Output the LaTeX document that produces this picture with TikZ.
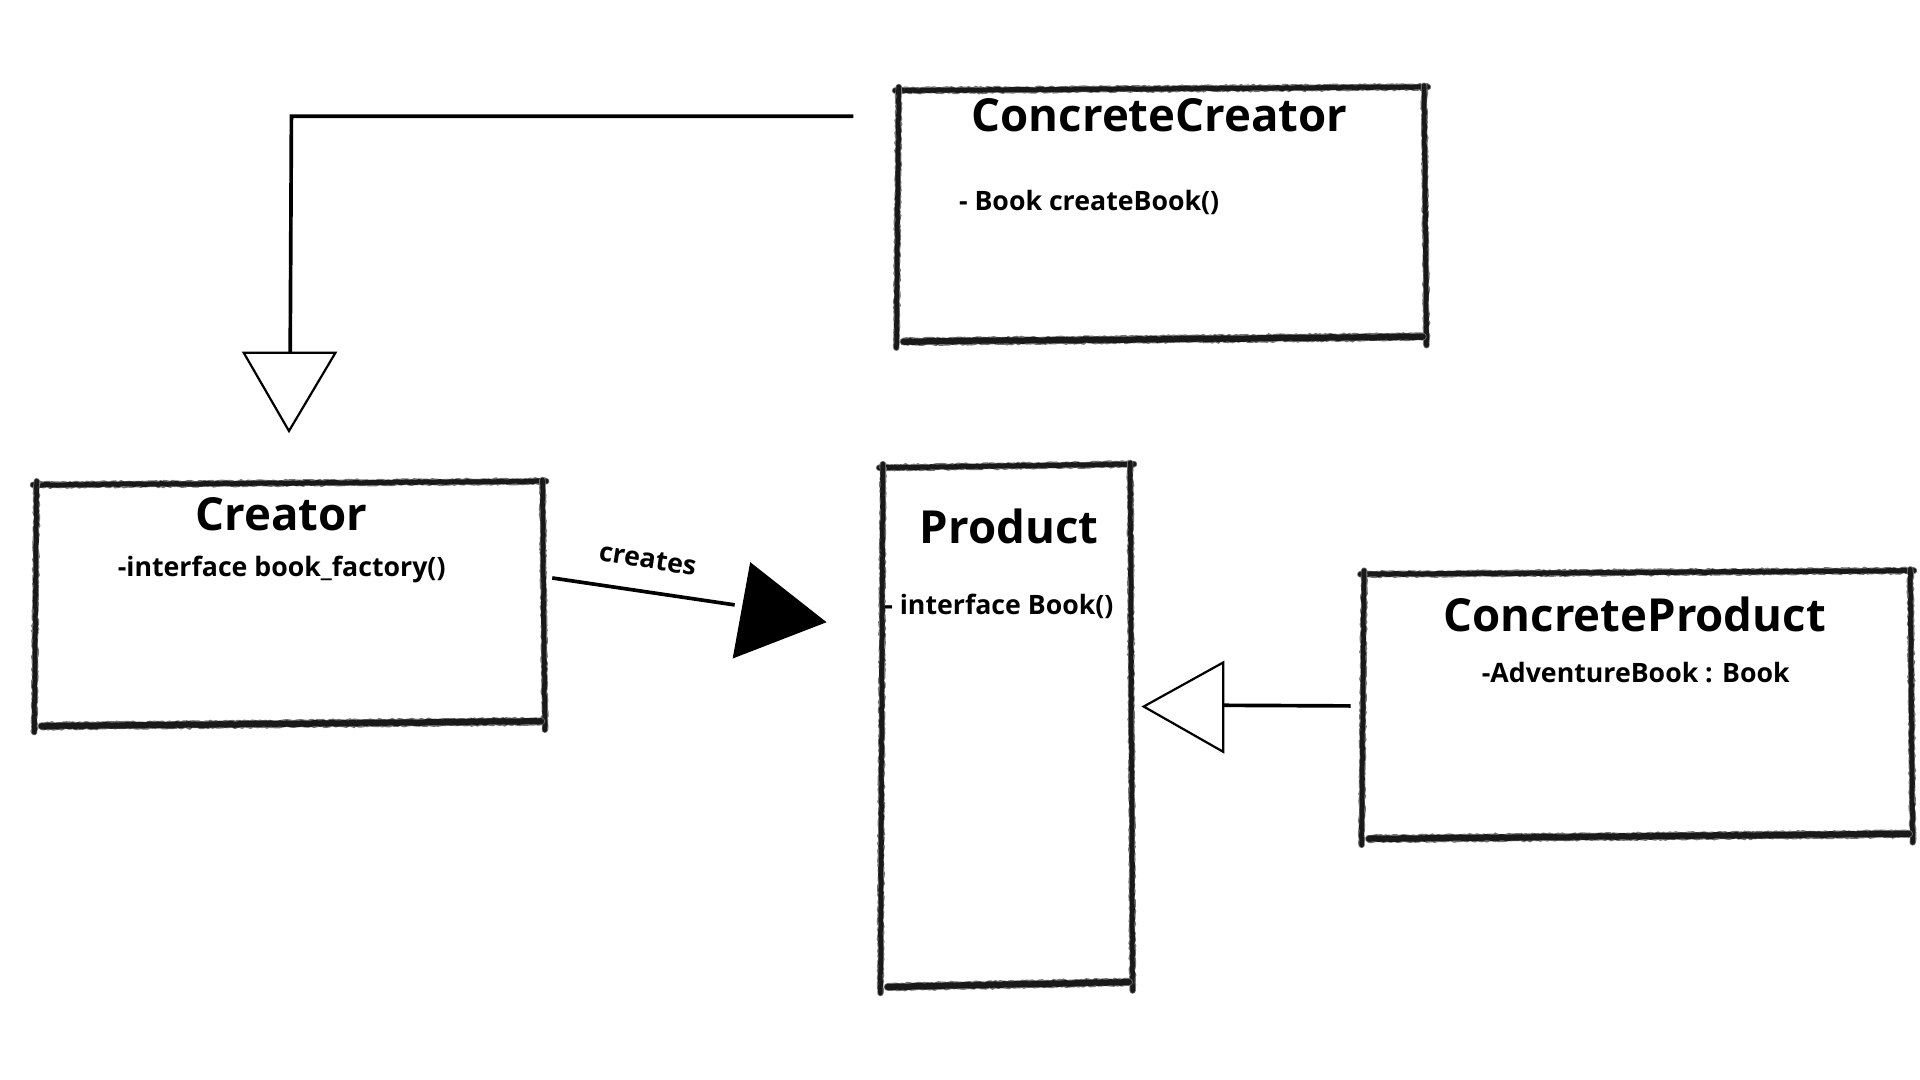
\documentclass[tikz,border=0pt]{standalone}
\usepackage{fontspec}
\setmainfont{Open Sans}
\usetikzlibrary{decorations.pathmorphing,calc}
\begin{document}
\begin{tikzpicture}[x=1pt,y=-1pt,
  skout/.style={line width=#1, draw=black!55, line cap=round,
    decorate, decoration={random steps, segment length=2pt, amplitude=0.6pt}},
  skin/.style={line width=#1, draw=black!90, line cap=round,
    decorate, decoration={random steps, segment length=2.5pt, amplitude=0.4pt}},
  boxn/.style={draw=none, rectangle, inner sep=0pt, outer sep=0pt, anchor=north west},
  ttl/.style={font=\fontsize{37.2}{40}\selectfont\bfseries, anchor=base, inner sep=0pt},
  txt/.style={font=\fontsize{21.8}{24}\selectfont\bfseries, anchor=base west, inner sep=0pt},
  conn/.style={line width=3pt, draw=black},
  hollow/.style={line width=1.8pt, draw=black, fill=white, line join=miter},
  solidtip/.style={fill=black, draw=black, line width=1pt}
]
\useasboundingbox (0,0) rectangle (1568,882);
\pgfmathsetseed{7}
\newcommand{\pencil}[3]{%
  \draw[skout=#3+1.4pt] #1 -- #2;
  \draw[skin=#3] #1 -- #2;
}
\newcommand{\sketchbox}[1]{%
  \pencil{($(#1.north west)+(-2,1)$)}{($(#1.north east)+(3,-2)$)}{4pt}
  \pencil{($(#1.north west)+(1,-2)$)}{($(#1.south west)+(-1,7)$)}{3.8pt}
  \pencil{($(#1.north east)+(0,-3)$)}{($(#1.south east)+(2,5)$)}{3.8pt}
  \pencil{($(#1.south west)+(5,2)$)}{($(#1.south east)+(-1,-2)$)}{5pt}
}

% boxes
\node[boxn, minimum width=430pt, minimum height=204pt] (cc) at (733,73) {};
\node[boxn, minimum width=414pt, minimum height=196pt] (cr) at (29,395) {};
\node[boxn, minimum width=203pt, minimum height=423pt] (pr) at (720,381) {};
\node[boxn, minimum width=447pt, minimum height=215pt] (cp) at (1113,468) {};
\sketchbox{cc}
\sketchbox{cr}
\sketchbox{pr}
\sketchbox{cp}

% texts
\node[ttl] (cct) at (947,107) {ConcreteCreator};
\node[txt] (ccm) at (783,172) {- Book createBook()};
\node[ttl] (crt) at (230,433) {Creator};
\node[txt] (crm) at (96,471) {-interface book\_factory()};
\node[ttl] (prt) at (824,444) {Product};
\node[txt] (prm) at (722,502) {- interface Book()};
\node[ttl] (cpt) at (1335,516) {ConcreteProduct};
\node[txt] (cpm) at (1210,557) {-AdventureBook : Book};

% inheritance ConcreteCreator -> Creator
\coordinate (a1) at ($(cc.west)+(-36,-80)$);
\coordinate (a2) at (238,95);
\coordinate (a3) at ($(cr.north)+(1,-107)$);
\draw[conn] (a1) -- (a2) -- (a3);
\draw[hollow] ($(a3)+(-38,0)$) -- ($(a3)+(37,0)$) -- ($(a3)+(-1,64)$) -- cycle;

% creates
\coordinate (b1) at ($(cr.east)+(8,-21)$);
\coordinate (b2) at (600,494);
\draw[conn] (b1) -- (b2);
\draw[solidtip] (613,460) -- (674,508) -- (599,537) -- cycle;
\node[font=\fontsize{21.8}{24}\selectfont\bfseries, rotate=-9, inner sep=0pt] (lbl) at (529,457) {creates};

% ConcreteProduct -> Product
\coordinate (c1) at ($(cp.west)+(-10,1)$);
\coordinate (c2) at (999,576);
\draw[conn] (c1) -- (c2);
\draw[hollow] (999,541) -- (999,614) -- (934,577) -- cycle;
\end{tikzpicture}
\end{document}
